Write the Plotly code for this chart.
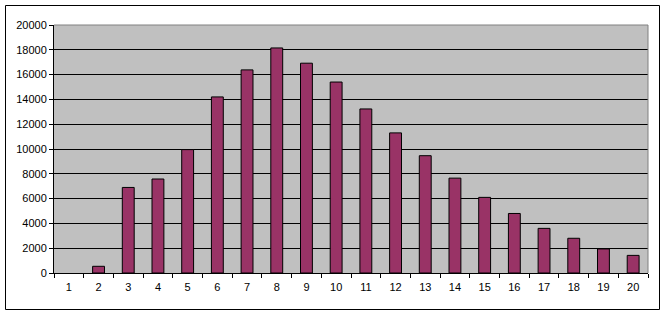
import plotly.graph_objects as go

categories = [str(i) for i in range(1, 21)]
values = [0, 540, 6900, 7580, 9950, 14200, 16380, 18150, 16920, 15400,
          13230, 11300, 9460, 7650, 6100, 4800, 3600, 2800, 1940, 1420]
y_ticks = [0, 2000, 4000, 6000, 8000, 10000, 12000, 14000, 16000, 18000, 20000]

W, H = 664, 315
L, R, T, B = 54, 16, 25, 42
pw, ph = W - L - R, H - T - B

def px_x(x):
    return (x - L) / pw

def px_y(y):
    return (H - B - y) / ph

# no outline for empty bars (Excel draws nothing for a zero value)
outline_widths = [1 if v > 0 else 0 for v in values]

fig = go.Figure()
fig.add_trace(go.Bar(
    x=categories, y=values,
    marker=dict(color="#993366", line=dict(color="black", width=outline_widths)),
))

fig.update_layout(
    width=W, height=H,
    margin=dict(l=L, r=R, t=T, b=B),
    paper_bgcolor="white",
    plot_bgcolor="#C0C0C0",
    bargap=0.6,
    showlegend=False,
    font=dict(family="Arial, Liberation Sans, sans-serif", size=11, color="black"),
    xaxis=dict(
        type="category",
        showgrid=False,
        showline=True, linecolor="black", linewidth=1,
        ticks="outside", tickson="boundaries", ticklen=4, tickcolor="black",
        ticklabelstandoff=4,
        tickfont=dict(size=11, color="black"),
        zeroline=False,
    ),
    yaxis=dict(
        range=[0, 20000],
        tickvals=y_ticks,
        ticktext=[str(v) for v in y_ticks],
        showgrid=True, gridcolor="black", gridwidth=1,
        showline=True, linecolor="black", linewidth=1,
        ticks="outside", ticklen=4, tickcolor="black",
        tickfont=dict(size=11, color="black"),
        zeroline=False,
    ),
    shapes=[
        dict(type="line", xref="paper", yref="paper", x0=0, x1=1, y0=1, y1=1,
             line=dict(color="#808080", width=1)),
        dict(type="line", xref="paper", yref="paper", x0=1, x1=1, y0=0, y1=1,
             line=dict(color="#808080", width=1)),
        dict(type="rect", xref="paper", yref="paper",
             x0=px_x(5.5), x1=px_x(659.5), y0=px_y(309.5), y1=px_y(5.5),
             line=dict(color="black", width=1)),
    ],
)

fig.write_html("out.html")
